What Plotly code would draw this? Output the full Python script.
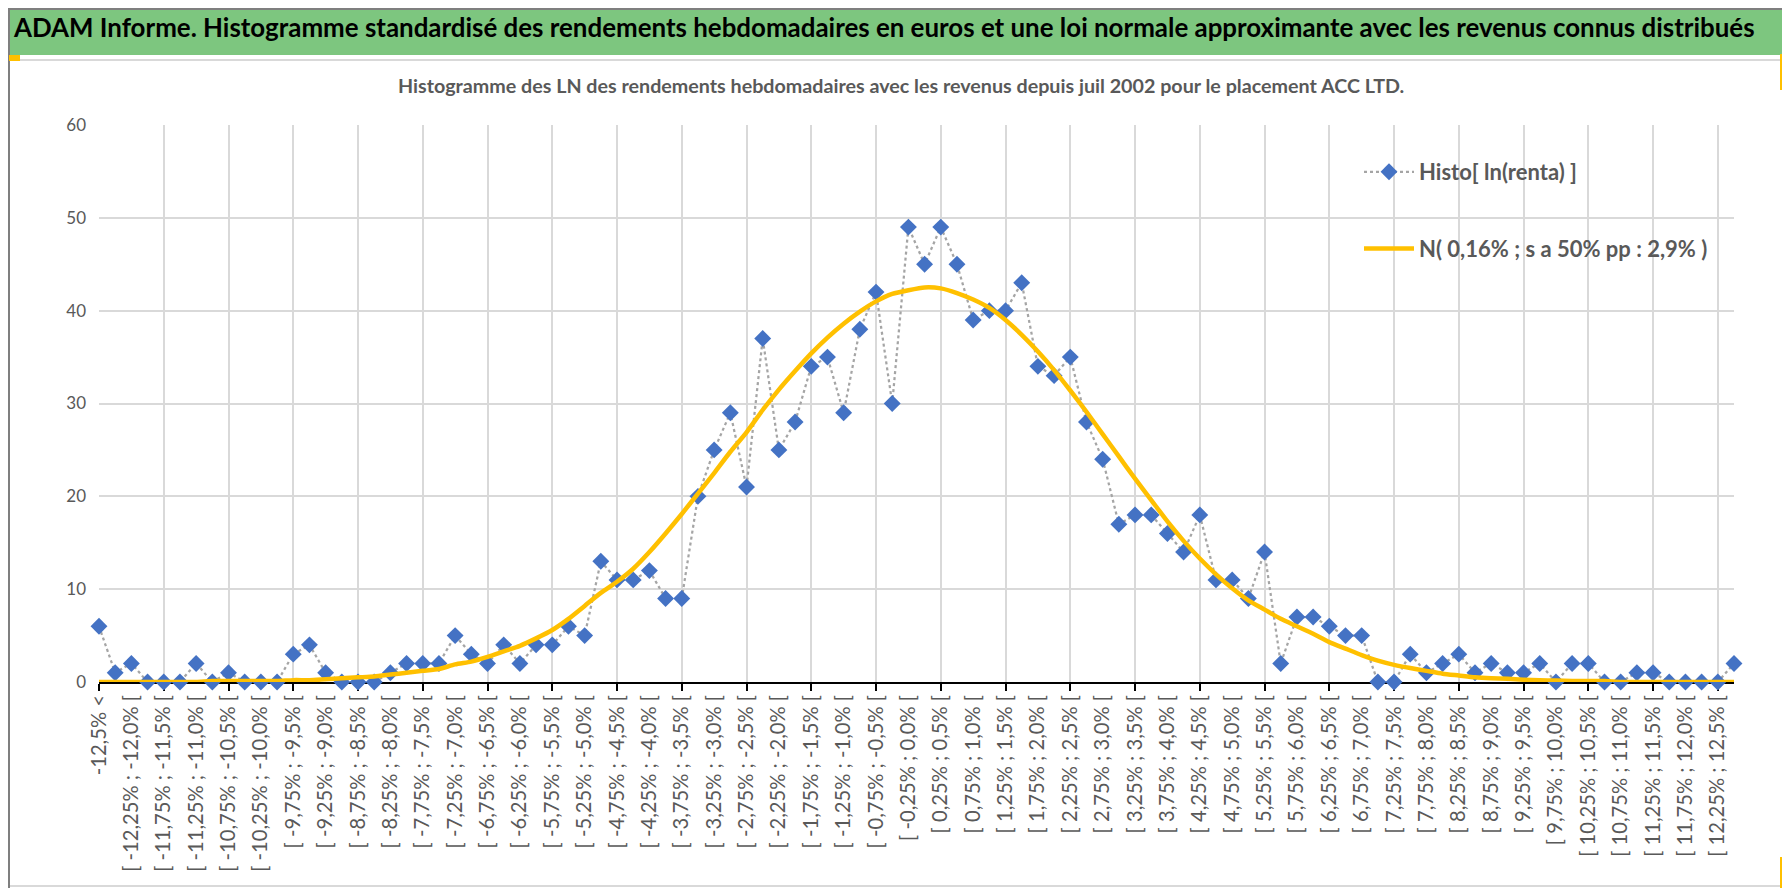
import plotly.graph_objects as go

# comptages hebdo par classe de 0,25%
histo = [6, 1, 2, 0, 0, 0, 2, 0, 1, 0,
         0, 0, 3, 4, 1, 0, 0, 0, 1, 2,
         2, 2, 5, 3, 2, 4, 2, 4, 4, 6,
         5, 13, 11, 11, 12, 9, 9, 20, 25, 29,
         21, 37, 25, 28, 34, 35, 29, 38, 42, 30,
         49, 45, 49, 45, 39, 40, 40, 43, 34, 33,
         35, 28, 24, 17, 18, 18, 16, 14, 18, 11,
         11, 9, 14, 2, 7, 7, 6, 5, 5, 0,
         0, 3, 1, 2, 3, 1, 2, 1, 1, 2,
         0, 2, 2, 0, 0, 1, 1, 0, 0, 0,
         0, 2]

# courbe de la loi normale approximante
normale = [0.0, 0.0, 0.0, 0.0, 0.0, 0.0, 0.0, 0.1, 0.1, 0.1,
           0.1, 0.1, 0.2, 0.2, 0.3, 0.4, 0.5, 0.6, 0.8, 1.0,
           1.2, 1.4, 1.9, 2.2, 2.7, 3.3, 3.9, 4.7, 5.6, 6.8,
           8.2, 9.6, 10.8, 12.2, 14.0, 16.0, 18.1, 20.3, 22.5, 24.8,
           26.9, 29.3, 31.5, 33.5, 35.4, 37.1, 38.6, 39.9, 41.0, 41.8,
           42.2, 42.5, 42.4, 41.9, 41.2, 40.3, 39.0, 37.4, 35.6, 33.6,
           31.4, 29.1, 26.7, 24.3, 21.9, 19.6, 17.3, 15.2, 13.3, 11.6,
           10.1, 8.8, 7.8, 6.8, 6.0, 5.2, 4.3, 3.6, 2.9, 2.3,
           1.85, 1.5, 1.2, 0.9, 0.7, 0.5, 0.4, 0.35, 0.25, 0.2,
           0.15, 0.1, 0.1, 0.1, 0.0, 0.0, 0.0, 0.0, 0.0, 0.0,
           0.0, 0.0]


def pct(v):
    s = f"{v:.1f}" if round(v * 100) % 50 == 0 else f"{v:.2f}"
    return s.replace('.', ',') + '%'


bornes = [-12.5 + 0.25 * i for i in range(100)]
classes = ['-12,5% <'] + ['[ %s ; %s [' % (pct(b), pct(b + 0.25)) for b in bornes] + ['12,5% <=']
x = list(range(len(classes)))

titre = 'ADAM Informe. Histogramme standardisé des rendements hebdomadaires en euros et une loi normale approximante avec les revenus connus distribués'
sous_titre = 'Histogramme des LN des rendements hebdomadaires avec les revenus depuis juil 2002 pour le placement ACC LTD.'

W, H = 1790, 888
ML, MR, MT, MB = 91, 64, 117, 214
PW, PH = W - ML - MR, H - MT - MB


def fx(px):
    return (px - ML) / PW


def fy(py):
    return (H - MB - py) / PH


POLICE = 'Lato, Calibri, sans-serif'
GRIS = '#595959'

fig = go.Figure()

# points de l'histogramme sur l'axe principal (grille + graduations tous les 4)
fig.add_trace(go.Scatter(
    x=x, y=histo,
    name='Histo[ ln(renta) ]',
    legendgroup='h',
    mode='lines+markers',
    line=dict(color='#A5A5A5', width=2.25, dash='dot'),
    marker=dict(symbol='diamond', size=13, color='#4472C4'),
    cliponaxis=False,
    xaxis='x', yaxis='y',
))

# courbe sur l'axe superposé (étiquettes une classe sur deux), dessinée au-dessus
fig.add_trace(go.Scatter(
    x=x, y=normale,
    name='N( 0,16% ; s a 50% pp : 2,9% )',
    legendgroup='n',
    mode='lines',
    line=dict(color='#FFC000', width=4.5, shape='spline', smoothing=0.6),
    cliponaxis=False,
    xaxis='x2', yaxis='y',
))

shapes = [
    # bandeau vert du titre
    dict(type='rect', xref='paper', yref='paper', x0=fx(2), x1=fx(1788), y0=fy(47), y1=fy(2),
         fillcolor='#7DC67F', line=dict(width=0), layer='below'),
    # cadre
    dict(type='rect', xref='paper', yref='paper', x0=fx(1), x1=fx(1789), y0=fy(887), y1=fy(1),
         line=dict(color='#7F7F7F', width=2)),
    dict(type='line', xref='paper', yref='paper', x0=fx(2), x1=fx(1785), y0=fy(52), y1=fy(52),
         line=dict(color='#D9D9D9', width=2)),
    dict(type='line', xref='paper', yref='paper', x0=fx(1785), x1=fx(1785), y0=fy(52), y1=fy(878),
         line=dict(color='#D9D9D9', width=2)),
    dict(type='line', xref='paper', yref='paper', x0=fx(2), x1=fx(1785), y0=fy(878), y1=fy(878),
         line=dict(color='#D9D9D9', width=2)),
    # poignées de sélection jaunes
    dict(type='rect', xref='paper', yref='paper', x0=fx(1), x1=fx(12), y0=fy(53), y1=fy(47),
         fillcolor='#FFC000', line=dict(width=0)),
    dict(type='rect', xref='paper', yref='paper', x0=fx(1772), x1=fx(1789), y0=fy(82), y1=fy(46),
         fillcolor='#FFC000', line=dict(width=0)),
    dict(type='rect', xref='paper', yref='paper', x0=fx(1772), x1=fx(1788), y0=fy(886), y1=fy(849),
         fillcolor='#FFC000', line=dict(width=0)),
    dict(type='rect', xref='paper', yref='paper', x0=fx(1), x1=fx(18), y0=fy(886), y1=fy(881),
         fillcolor='#FFC000', line=dict(width=0)),
    # fond blanc de la légende
    dict(type='rect', xref='paper', yref='paper', x0=fx(1320), x1=fx(1729), y0=fy(285), y1=fy(125),
         fillcolor='white', line=dict(width=0), layer='between'),
]

fig.update_layout(
    width=W, height=H,
    margin=dict(l=ML, r=MR, t=MT, b=MB),
    paper_bgcolor='white',
    plot_bgcolor='white',
    font=dict(family=POLICE, color=GRIS),
    shapes=shapes,
    annotations=[
        dict(text='<b>' + titre + '</b>', xref='paper', yref='paper', x=fx(3), y=fy(19),
             xanchor='left', yanchor='middle', showarrow=False,
             font=dict(family=POLICE, size=25.9, color='black')),
        dict(text='<b>' + sous_titre + '</b>', xref='paper', yref='paper', x=fx(893), y=fy(78),
             xanchor='center', yanchor='middle', showarrow=False,
             font=dict(family=POLICE, size=19.7, color=GRIS)),
    ],
    legend=dict(
        x=fx(1351), y=fy(143), xanchor='left', yanchor='top',
        bgcolor='rgba(0,0,0,0)',
        font=dict(family=POLICE, size=22, color=GRIS, weight='bold'),
        itemwidth=50,
        traceorder='grouped',
        tracegroupgap=45,
    ),
    xaxis=dict(
        range=[0, 101],
        tickmode='array', tickvals=x[:101:4],
        showticklabels=False,
        ticks='outside', ticklen=7, tickwidth=2, tickcolor='black',
        showgrid=True, gridcolor='#D9D9D9', gridwidth=1.5,
        zeroline=False,
        showline=True, linecolor='black', linewidth=2,
        layer='below traces',
    ),
    xaxis2=dict(
        overlaying='x', anchor='y', matches='x',
        range=[0, 101],
        tickmode='array',
        tickvals=x[::2],
        ticktext=classes[::2],
        tickangle=-90,
        tickfont=dict(family=POLICE, size=20.2, color=GRIS),
        ticks='',
        ticklabelstandoff=8,
        showgrid=False, zeroline=False, showline=False,
        layer='below traces',
    ),
    yaxis=dict(
        range=[0, 60],
        tickmode='linear', tick0=0, dtick=10,
        tickfont=dict(family=POLICE, size=17, color=GRIS),
        ticklabelstandoff=12,
        showgrid=True, gridcolor='#D9D9D9', gridwidth=1.5,
        zeroline=False, showline=False,
        layer='below traces',
    ),
)

fig.write_html('out.html')
